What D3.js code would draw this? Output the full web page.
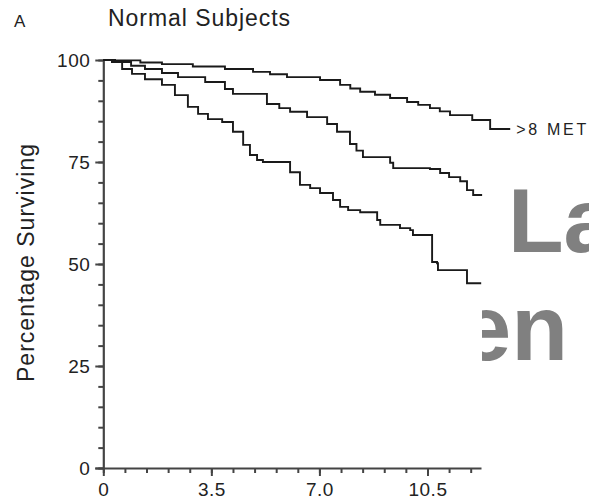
<!DOCTYPE html>
<html>
<head>
<meta charset="utf-8">
<script src="https://cdn.jsdelivr.net/npm/d3@7"></script>
<style>
  html, body { margin: 0; padding: 0; background: #fff; }
  svg { display: block; }
  text { font-family: "Liberation Sans", Arial, Helvetica, sans-serif; }
</style>
</head>
<body>
<svg id="chart" width="589" height="504"></svg>
<script>
// ---- data ----
const panelLetter = "A";
const chartTitle = "Normal Subjects";
const yAxisTitle = "Percentage Surviving";
const xTickValues = [0, 3.5, 7.0, 10.5];
const xTickLabels = ["0", "3.5", "7.0", "10.5"];
const yTickValues = [0, 25, 50, 75, 100];
const seriesLabels = [">8 MET", "", ""];

// time (years), percent surviving
const seriesHigh = [
  [0, 100], [0.38, 99.9], [1.2, 99.4], [1.9, 99.0], [2.9, 98.4], [3.94, 97.8], [4.85, 97.1],
  [5.4, 96.5], [5.95, 95.8], [7.02, 95.1], [7.67, 93.9], [8.0, 93.0], [8.32, 92.2],
  [8.8, 91.5], [9.29, 90.7], [9.84, 89.7], [10.2, 89.0], [10.58, 88.2], [10.9, 87.4],
  [11.23, 86.5], [11.95, 85.3], [12.53, 83.1], [13.18, 83.1]
];
const seriesMid = [
  [0, 100], [0.38, 99.5], [0.9, 98.6], [1.35, 97.8], [1.9, 96.8], [2.42, 95.8], [3.3, 94.6],
  [3.94, 92.9], [4.2, 91.7], [4.85, 91.7], [5.3, 89.2], [5.7, 88.2], [6.05, 87.3],
  [6.6, 86.0], [7.25, 84.3], [7.57, 82.4], [7.99, 79.4], [8.2, 77.8], [8.41, 76.2],
  [9.29, 74.8], [9.39, 73.5], [10.58, 73.3], [10.91, 72.3], [11.2, 71.3], [11.56, 70.3],
  [11.78, 68.1], [11.98, 66.9], [12.27, 66.9]
];
const seriesLow = [
  [0, 100], [0.28, 99.5], [0.61, 97.8], [0.93, 96.6], [1.35, 95.3], [1.9, 93.9],
  [2.32, 91.4], [2.74, 88.5], [3.07, 86.8], [3.39, 85.5], [3.85, 84.8], [4.2, 82.4],
  [4.53, 79.2], [4.75, 76.7], [4.98, 75.5], [5.17, 75.0], [5.82, 75.0], [6.05, 72.5],
  [6.37, 69.4], [6.7, 68.6], [7.02, 67.4], [7.44, 65.7], [7.67, 64.0], [7.93, 63.2],
  [8.32, 62.7], [8.87, 60.8], [8.97, 59.6], [9.55, 59.6], [9.61, 58.8], [9.94, 58.3],
  [10.03, 57.1], [10.58, 57.1], [10.65, 50.5], [10.81, 50.2], [10.84, 48.5],
  [11.72, 48.5], [11.78, 45.3], [12.24, 45.3]
];
const allSeries = [seriesHigh, seriesMid, seriesLow];

const watermarkTop = "La";
const watermarkBottom = "en";

// ---- drawing ----
const svg = d3.select("#chart");
const x = d3.scaleLinear().domain([0, 12.25]).range([103.3, 481.5]);
const y = d3.scaleLinear().domain([0, 100]).range([468, 60]);

const textColor = "#222";
const axisColor = "#444";

// watermark (behind), clipped on the left at the plot edge
svg.append("clipPath").attr("id", "wmclip")
  .append("rect").attr("x", 482).attr("y", 0).attr("width", 200).attr("height", 504);
const wm = svg.append("g").attr("clip-path", "url(#wmclip)")
  .style("font-weight", "bold").attr("fill", "#808080");
wm.append("text").attr("x", 508).attr("y", 252).style("font-size", "91px").text(watermarkTop);
wm.append("text").attr("x", 568).attr("y", 360).attr("text-anchor", "end")
  .style("font-size", "93px").text(watermarkBottom);

// panel letter and title
svg.append("text").attr("x", 14).attr("y", 27).attr("fill", textColor)
  .style("font-size", "17px").text(panelLetter);
svg.append("text").attr("x", 108).attr("y", 26).attr("fill", textColor)
  .style("font-size", "23px").attr("textLength", 182).attr("lengthAdjust", "spacing")
  .text(chartTitle);

// y axis title
svg.append("text").attr("transform", "translate(34,263) rotate(-90)")
  .attr("text-anchor", "middle").attr("fill", textColor)
  .style("font-size", "23px").attr("textLength", 238).attr("lengthAdjust", "spacing")
  .text(yAxisTitle);

// minor ticks
const yMinor = d3.range(0, 101, 5);
const xMinor = d3.range(0, 12.2, 0.7);
svg.append("g").attr("transform", `translate(${x(0)},0)`)
  .call(d3.axisLeft(y).tickValues(yMinor).tickSize(5).tickFormat(""))
  .call(g => g.select(".domain").remove())
  .call(g => g.selectAll("line").attr("stroke", axisColor).attr("stroke-width", 2));
svg.append("g").attr("transform", `translate(0,${y(0)})`)
  .call(d3.axisBottom(x).tickValues(xMinor).tickSize(5).tickFormat(""))
  .call(g => g.select(".domain").remove())
  .call(g => g.selectAll("line").attr("stroke", axisColor).attr("stroke-width", 2));

// major axes
const yAxis = svg.append("g").attr("transform", `translate(${x(0)},0)`)
  .call(d3.axisLeft(y).tickValues(yTickValues).tickSize(8).tickSizeOuter(0).tickPadding(5));
const xAxis = svg.append("g").attr("transform", `translate(0,${y(0)})`)
  .call(d3.axisBottom(x).tickValues(xTickValues).tickSize(8).tickSizeOuter(0).tickPadding(7)
    .tickFormat((d, i) => xTickLabels[i]));
[yAxis, xAxis].forEach(g => {
  g.select(".domain").attr("stroke", axisColor).attr("stroke-width", 2.2);
  g.selectAll(".tick line").attr("stroke", axisColor).attr("stroke-width", 2);
  g.selectAll(".tick text").attr("fill", textColor)
    .style("font-size", "19px").style("letter-spacing", "0.5px")
    .style("font-family", "'Liberation Sans', Arial, sans-serif");
});
xAxis.select(".domain").attr("d", `M${x(0) - 8},0.5H${x(12.25)}`);

// curves
const line = d3.line().x(d => x(d[0])).y(d => y(d[1])).curve(d3.curveStepAfter);
svg.append("g").selectAll("path").data(allSeries).join("path")
  .attr("d", line).attr("fill", "none").attr("stroke", "#1a1a1a")
  .attr("stroke-width", 1.9).attr("stroke-linejoin", "miter");

// series label
const last = seriesHigh[seriesHigh.length - 1];
svg.append("text").attr("x", x(last[0]) + 6).attr("y", y(last[1]) + 6)
  .attr("fill", textColor).style("font-size", "16px")
  .attr("textLength", 70).attr("lengthAdjust", "spacing")
  .text(seriesLabels[0]);
</script>
</body>
</html>
